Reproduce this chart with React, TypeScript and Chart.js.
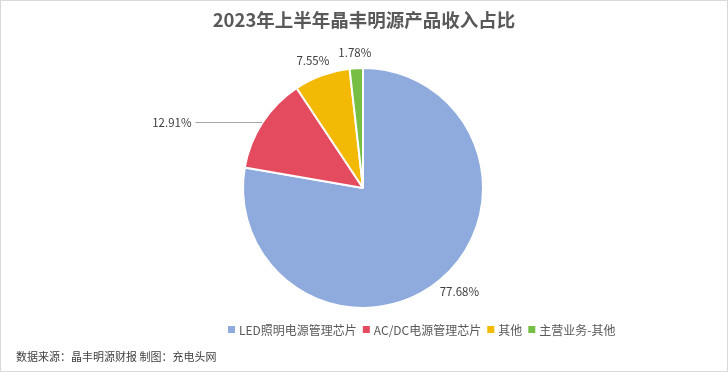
import React, { useEffect, useRef } from "react";
import { Chart, registerables } from "chart.js";

Chart.register(...registerables);

const TITLE = "2023年上半年晶丰明源产品收入占比";
const SOURCE = "数据来源：晶丰明源财报 制图：充电头网";
const categories = ["LED照明电源管理芯片", "AC/DC电源管理芯片", "其他", "主营业务-其他"];
const shares = [77.68, 12.91, 7.55, 1.78];
const colors = ["#8FAADC", "#E54B5F", "#F2BA04", "#77BE45"];

const FONT = '"Noto Sans CJK SC", "Noto Sans", sans-serif';

const overlayPlugin = {
  id: "overlay",
  afterDraw(chart: any) {
    const ctx = chart.ctx as CanvasRenderingContext2D;
    const W = chart.width;
    const H = chart.height;
    ctx.save();
    // outer border
    ctx.strokeStyle = "#D9D9D9";
    ctx.lineWidth = 1;
    ctx.strokeRect(0.5, 0.5, W - 1, H - 1);

    // title
    ctx.fillStyle = "#595959";
    ctx.font = `bold 18.5px ${FONT}`;
    ctx.textAlign = "center";
    ctx.textBaseline = "middle";
    ctx.fillText(TITLE, W / 2, 20);

    // data labels
    const meta = chart.getDatasetMeta(0);
    ctx.font = `11.5px ${FONT}`;
    ctx.fillStyle = "#404040";
    meta.data.forEach((arc: any, i: number) => {
      const p = arc.getProps(["x", "y", "startAngle", "endAngle", "outerRadius"], true);
      const mid = (p.startAngle + p.endAngle) / 2;
      const c = Math.cos(mid);
      const s = Math.sin(mid);
      const text = shares[i].toFixed(2) + "%";
      const w = ctx.measureText(text).width;
      if (i === 1) {
        const ex = p.x + c * p.outerRadius;
        const ey = p.y + s * p.outerRadius;
        const lx = ex - 67;
        ctx.strokeStyle = "#A6A6A6";
        ctx.lineWidth = 1;
        ctx.beginPath();
        ctx.moveTo(ex, Math.round(ey) + 0.5);
        ctx.lineTo(lx, Math.round(ey) + 0.5);
        ctx.stroke();
        ctx.textAlign = "right";
        ctx.fillText(text, lx - 4, ey);
      } else {
        const ax = p.x + c * (p.outerRadius + 10);
        const ay = p.y + s * (p.outerRadius + 10);
        ctx.textAlign = "center";
        ctx.fillText(text, ax + c * (w / 2), ay + s * 6);
      }
    });

    // legend
    ctx.font = `12px ${FONT}`;
    ctx.textAlign = "left";
    ctx.textBaseline = "middle";
    let x = 228;
    const ly = 330;
    categories.forEach((label, i) => {
      ctx.fillStyle = colors[i];
      ctx.fillRect(x, ly - 4, 7, 7);
      x += 11;
      ctx.fillStyle = "#595959";
      ctx.fillText(label, x, ly);
      x += ctx.measureText(label).width + 6;
    });

    // source
    ctx.font = `11px ${FONT}`;
    ctx.fillStyle = "#404040";
    ctx.textAlign = "left";
    ctx.fillText(SOURCE, 16, 357);
    ctx.restore();
  },
};

export default function App() {
  const ref = useRef<HTMLCanvasElement>(null);
  useEffect(() => {
    document.body.style.margin = "0";
    const chart = new Chart(ref.current!, {
      type: "pie",
      data: {
        labels: categories,
        datasets: [
          {
            data: shares,
            backgroundColor: colors,
            borderColor: "#FFFFFF",
            borderWidth: 2,
          },
        ],
      },
      options: {
        responsive: false,
        animation: false,
        radius: 120,
        layout: { padding: { top: 68, bottom: 64, left: 0, right: 2 } },
        plugins: {
          legend: { display: false },
          title: { display: false },
          tooltip: { enabled: false },
        },
      } as any,
      plugins: [overlayPlugin],
    });
    return () => chart.destroy();
  }, []);
  return (
    <div style={{ width: 728, height: 372, background: "#fff" }}>
      <canvas ref={ref} width={728} height={372} style={{ display: "block" }} />
    </div>
  );
}
